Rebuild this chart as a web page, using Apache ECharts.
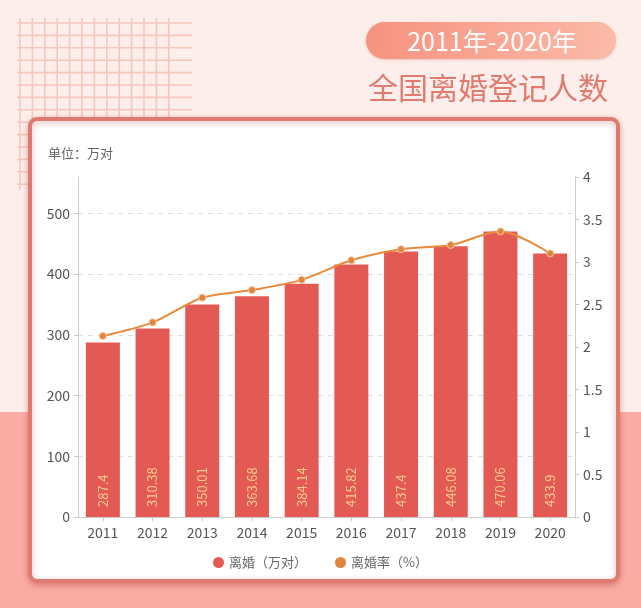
<!DOCTYPE html>
<html><head><meta charset="utf-8">
<script src="https://cdn.jsdelivr.net/npm/echarts@6/dist/echarts.min.js"></script>
<style>html,body{margin:0;padding:0;background:#FCEFEB}#c{width:641px;height:608px}</style>
</head><body><div id="c"></div>
<script>
// ---- data ----
const years = ['2011','2012','2013','2014','2015','2016','2017','2018','2019','2020'];
const divorces = [287.4, 310.38, 350.01, 363.68, 384.14, 415.82, 437.4, 446.08, 470.06, 433.9];
const rates = [2.13, 2.29, 2.58, 2.67, 2.79, 3.02, 3.15, 3.2, 3.36, 3.1];
const seriesNames = ['离婚（万对）', '离婚率（%）'];
const badgeText = '2011年-2020年';
const titleText = '全国离婚登记人数';
const unitText = '单位：万对';
const leftMin = 0, leftMax = 560, leftInterval = 100;
const rightMin = 0, rightMax = 4, rightInterval = 0.5;

const FONT = '"Noto Sans CJK SC", "Noto Sans", sans-serif';
const chart = echarts.init(document.getElementById('c'), null, {renderer: 'canvas'});

// decorative background graphics
const deco = [];
deco.push({type: 'rect', z: -20, silent: true, shape: {x: 0, y: 412, width: 641, height: 196}, style: {fill: '#FAACA4'}});
const gridColor = '#F8C6BD';
for (let i = 0; i < 13; i++) {
  const x = 20 + i * 12.4;
  deco.push({type: 'line', z: -15, silent: true, shape: {x1: x, y1: 18, x2: x, y2: 190}, style: {stroke: gridColor, lineWidth: 1.6}});
}
for (let j = 0; j < 14; j++) {
  const y = 23 + j * 12.4;
  deco.push({type: 'line', z: -15, silent: true, shape: {x1: 17, y1: y, x2: 192, y2: y}, style: {stroke: gridColor, lineWidth: 1.6}});
}
// card
deco.push({type: 'rect', z: -5, silent: true,
  shape: {x: 30, y: 119, width: 588, height: 462, r: 7},
  style: {fill: '#ffffff', stroke: '#E07A70', lineWidth: 4, shadowBlur: 6, shadowOffsetY: 2, shadowColor: 'rgba(170,60,50,0.35)'}});
// badge
deco.push({type: 'rect', z: 10, silent: true,
  shape: {x: 366, y: 22, width: 250, height: 37, r: 18.5},
  style: {fill: new echarts.graphic.LinearGradient(0, 0, 1, 1, [{offset: 0, color: '#F6927F'}, {offset: 1, color: '#FCBBA9'}]),
          shadowBlur: 3, shadowOffsetY: 1, shadowColor: 'rgba(200,90,70,0.3)'}});
deco.push({type: 'text', z: 11, silent: true, x: 492, y: 41,
  style: {text: badgeText, fill: '#ffffff', font: '25px ' + FONT, align: 'center', verticalAlign: 'middle'}});
deco.push({type: 'text', z: 11, silent: true, x: 608, y: 88,
  style: {text: titleText, fill: '#E17A6F', font: '30px ' + FONT, align: 'right', verticalAlign: 'middle'}});
deco.push({type: 'text', z: 11, silent: true, x: 48, y: 153,
  style: {text: unitText, fill: '#666666', font: '13px ' + FONT, align: 'left', verticalAlign: 'middle'}});

const axisLabel = {color: '#555', fontSize: 14, fontFamily: FONT};
const axisLine = {show: true, lineStyle: {color: '#cccccc'}};

chart.setOption({
  backgroundColor: '#FCEFEB',
  textStyle: {fontFamily: FONT},
  animation: false,
  graphic: deco,
  grid: {left: 78, right: 66, top: 177, bottom: 91, containLabel: false},
  legend: {
    data: seriesNames, bottom: 34, left: 'center', itemGap: 28,
    icon: 'circle', itemWidth: 11, itemHeight: 11,
    itemStyle: {borderWidth: 0},
    textStyle: {color: '#666', fontSize: 13, fontFamily: FONT}
  },
  xAxis: {
    type: 'category', data: years,
    axisLine: axisLine,
    axisTick: {show: true, alignWithLabel: true, length: 4, lineStyle: {color: '#cccccc'}},
    axisLabel: Object.assign({margin: 9}, axisLabel)
  },
  yAxis: [
    {type: 'value', min: leftMin, max: leftMax, interval: leftInterval,
     axisLine: axisLine,
     axisTick: {show: true, length: 4, lineStyle: {color: '#cccccc'}},
     axisLabel: Object.assign({margin: 8, showMaxLabel: false}, axisLabel),
     splitLine: {show: true, showMaxLine: false, lineStyle: {color: '#dddddd', type: [5, 5]}}},
    {type: 'value', min: rightMin, max: rightMax, interval: rightInterval, position: 'right',
     axisLine: axisLine,
     axisTick: {show: true, length: 4, lineStyle: {color: '#cccccc'}},
     axisLabel: Object.assign({margin: 8}, axisLabel),
     splitLine: {show: false}}
  ],
  series: [
    {name: seriesNames[0], type: 'bar', data: divorces, barWidth: 34, yAxisIndex: 0,
     itemStyle: {color: '#E35A55'},
     label: {show: true, position: 'insideBottom', rotate: 90, align: 'left', verticalAlign: 'middle',
             distance: 10, color: '#F6CC8C', fontSize: 13, fontFamily: FONT}},
    {name: seriesNames[1], type: 'line', data: rates, yAxisIndex: 1, smooth: 0.3,
     symbol: 'circle', symbolSize: 7,
     lineStyle: {color: '#E8893B', width: 2},
     itemStyle: {color: '#E0843E', borderColor: '#F7C49A', borderWidth: 1}}
  ]
});
</script></body></html>
